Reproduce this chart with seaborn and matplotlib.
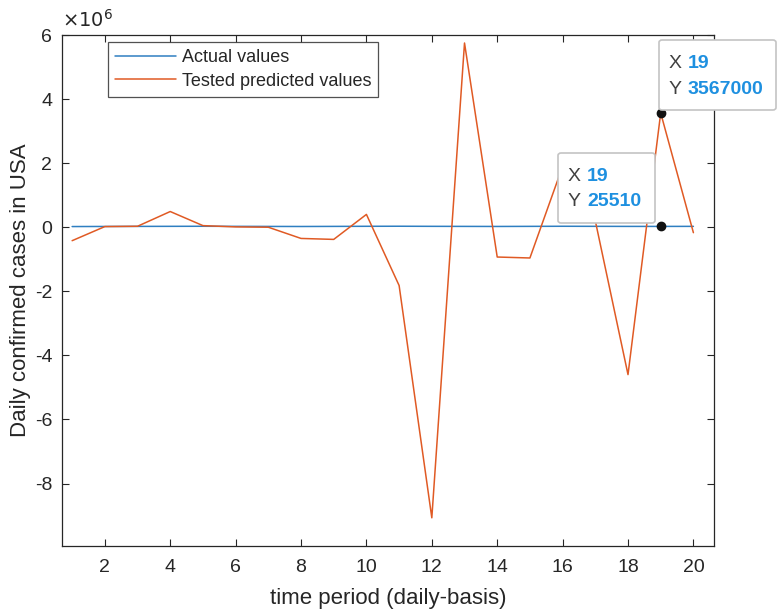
import numpy as np
import pandas as pd
import matplotlib
matplotlib.use('Agg')
import matplotlib.pyplot as plt
import seaborn as sns
from matplotlib.patches import FancyBboxPatch


# Data

days = list(range(1, 21))
actual_values = [21000, 24000, 26000, 28000, 30000, 27000, 25000, 23000, 26000, 29000,
                 31000, 28000, 26000, 24000, 27000, 30000, 28000, 26000, 25510, 27000]
predicted_values = [-420000, 20000, 30000, 490000, 50000, 10000, 0, -350000, -380000, 400000,
                    -1820000, -9070000, 5750000, -930000, -960000, 1900000, 200000, -4600000,
                    3567000, -170000]
tip_points = [(19, 25510), (19, 3567000)]

df = pd.DataFrame({'day': days, 'actual': actual_values, 'predicted': predicted_values})
scale = 1e6


# Plot

sns.set_style('ticks')
plt.rcParams['font.family'] = ['Liberation Sans', 'DejaVu Sans']
plt.rcParams['axes.unicode_minus'] = False

fig = plt.figure(figsize=(7.78, 6.10), dpi=100)
ax = fig.add_axes([62 / 778, 1 - 546 / 610, (714 - 62) / 778, (546 - 35) / 610])

sns.lineplot(x=df['day'], y=df['actual'] / scale, ax=ax, color='#2f7fc1', linewidth=1.1,
             label='Actual values')
sns.lineplot(x=df['day'], y=df['predicted'] / scale, ax=ax, color='#e05a24', linewidth=1.1,
             label='Tested predicted values')

ax.set_xlim(0.69, 20.63)
ax.set_ylim(-9.95, 6)
ax.set_xticks(range(2, 21, 2))
ax.set_yticks(range(-8, 7, 2))
ax.tick_params(direction='in', length=5, width=0.8, top=True, right=True,
               labelsize=14, colors='#262626', pad=7)
ax.tick_params(axis='x', pad=9)
for s in ax.spines.values():
    s.set_color('#262626')
    s.set_linewidth(0.9)

ax.set_xlabel('time period (daily-basis)', fontsize=16, color='#262626', labelpad=9)
ax.set_ylabel('Daily confirmed cases in USA', fontsize=16, color='#262626', labelpad=3)
fig.text(62 / 778, 1 - 20 / 610, r'$\times10^{6}$', fontsize=14, color='#262626', va='center')

leg = ax.legend(loc='upper left', bbox_to_anchor=(0.07, 0.986), fontsize=13, frameon=True,
                fancybox=False, handlelength=3.4, handletextpad=0.3, borderpad=0.4,
                labelspacing=0.35, borderaxespad=0)
leg.get_frame().set_edgecolor('#262626')
leg.get_frame().set_linewidth(0.9)


# data tips
for (tx, ty), box in zip(tip_points, [(558, 153, 655, 223), (659, 40, 776, 110)]):
    ax.plot(tx, ty / scale, 'o', color='#111111', markersize=6, zorder=6, clip_on=False)
    x0, y0, x1, y1 = box
    patch = FancyBboxPatch((x0 / 778, 1 - y1 / 610), (x1 - x0) / 778, (y1 - y0) / 610,
                           boxstyle='round,pad=0,rounding_size=0.004', transform=fig.transFigure,
                           facecolor='white', edgecolor='#c4c4c4', linewidth=1.2, zorder=10)
    fig.patches.append(patch)
    lx = x0 + 10
    vx = x0 + 29
    fig.text(lx / 778, 1 - (y0 + 24) / 610, 'X', fontsize=14, color='#404040', va='center', zorder=11)
    fig.text(vx / 778, 1 - (y0 + 24) / 610, str(tx), fontsize=14, color='#1e90e0',
             fontweight='bold', va='center', zorder=11)
    fig.text(lx / 778, 1 - (y0 + 49) / 610, 'Y', fontsize=14, color='#404040', va='center', zorder=11)
    fig.text(vx / 778, 1 - (y0 + 49) / 610, str(ty), fontsize=14, color='#1e90e0',
             fontweight='bold', va='center', zorder=11)

fig.savefig('out.png', dpi=100)
